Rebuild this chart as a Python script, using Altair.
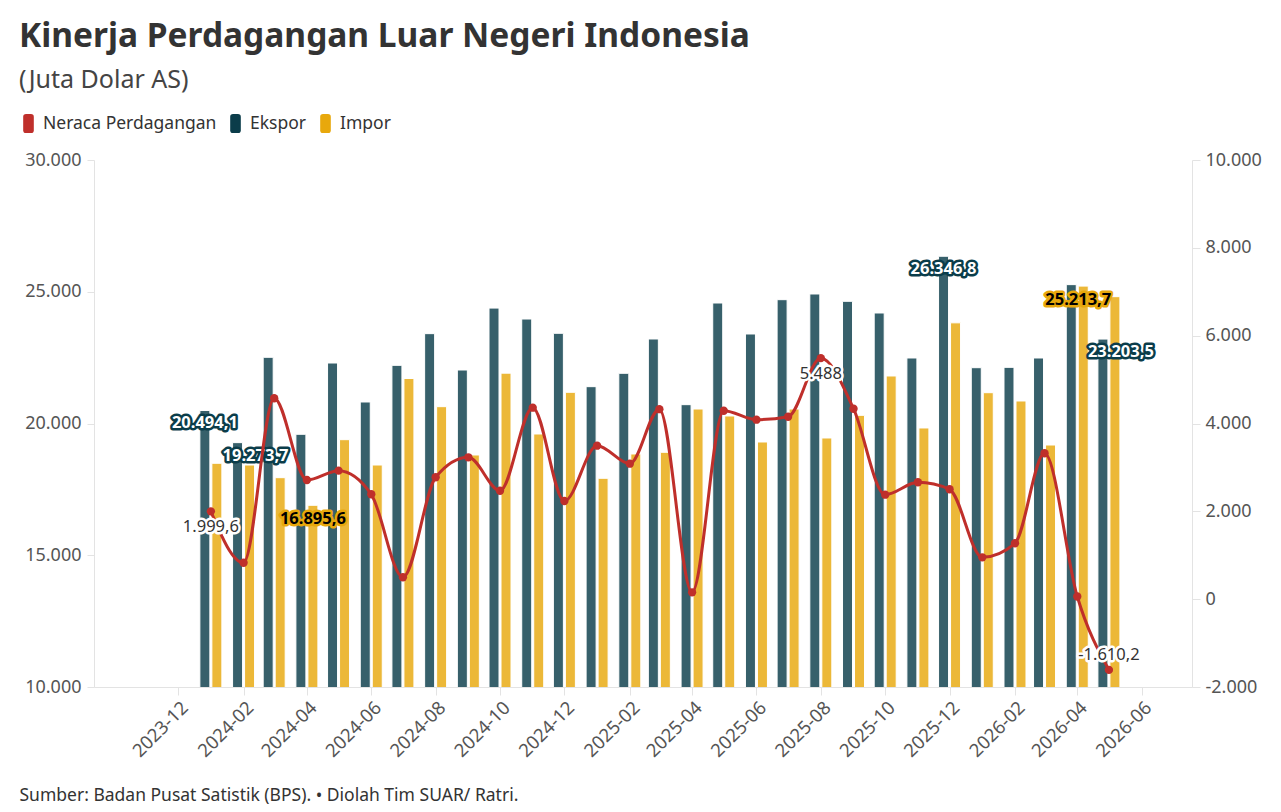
import altair as alt
import pandas as pd

bulan = ["2024-01", "2024-02", "2024-03", "2024-04", "2024-05", "2024-06", "2024-07", "2024-08",
         "2024-09", "2024-10", "2024-11", "2024-12", "2025-01", "2025-02", "2025-03", "2025-04",
         "2025-05", "2025-06", "2025-07", "2025-08", "2025-09", "2025-10", "2025-11", "2025-12",
         "2026-01", "2026-02", "2026-03", "2026-04", "2026-05"]
ekspor = [20494.1, 19273.7, 22512, 19590, 22296, 20816, 22207, 23410, 22030, 24380, 23965, 23423,
          21398, 21905, 23207, 20715, 24573, 23397, 24699, 24915, 24637, 24194, 22486, 26346.8,
          22118, 22131, 22486, 25270, 23203.5]
impor = [18490, 18425, 17944, 16895.6, 19386, 18425, 21708, 20639, 18805, 21910, 19602, 21184,
         17920, 18843, 18907, 20550, 20285, 19298, 20550, 19450, 20310, 21803, 19830, 23820,
         21169, 20854, 19184, 25213.7, 24813.7]
neraca = [1999.6, 830, 4574, 2714, 2926, 2388, 498, 2775, 3230, 2470, 4360, 2235, 3495, 3085,
          4326, 156, 4291, 4087, 4155, 5488, 4337, 2379, 2661, 2502, 953, 1272, 3322, 60, -1610.2]

# x-axis tick months (labels shown every second month)
tick_bulan = ["2023-12", "2024-01", "2024-02", "2024-03", "2024-04", "2024-05", "2024-06",
              "2024-07", "2024-08", "2024-09", "2024-10", "2024-11", "2024-12", "2025-01",
              "2025-02", "2025-03", "2025-04", "2025-05", "2025-06", "2025-07", "2025-08",
              "2025-09", "2025-10", "2025-11", "2025-12", "2026-01", "2026-02", "2026-03",
              "2026-04", "2026-05", "2026-06"]
left_ticks = [10000, 15000, 20000, 25000, 30000]
right_ticks = [-2000, 0, 2000, 4000, 6000, 8000, 10000]

seri = ["Neraca Perdagangan", "Ekspor", "Impor"]
warna = ["#bf2f2b", "#0b3d4a", "#e8a80c"]

judul = "Kinerja Perdagangan Luar Negeri Indonesia"
subjudul = "(Juta Dolar AS)"
sumber = "Sumber: Badan Pusat Satistik (BPS). • Diolah Tim SUAR/ Ratri."

df = pd.DataFrame({
    "bulan": bulan,
    "tanggal": [b + "-01" for b in bulan],
    "Ekspor": ekspor,
    "Impor": impor,
    "Neraca": neraca,
})

FONT = "Noto Sans"
AX = "#555555"
LINE = "#e3e3e3"

color_scale = alt.Scale(domain=seri, range=warna)
pill = ("M-0.26,-1 L0.26,-1 Q0.56,-1 0.56,-0.7 L0.56,0.7 Q0.56,1 0.26,1 "
        "L-0.26,1 Q-0.56,1 -0.56,0.7 L-0.56,-0.7 Q-0.56,-1 -0.26,-1 Z")
legend = alt.Legend(
    title=None, orient="none", direction="horizontal", legendX=-75, legendY=-46,
    symbolType=pill, symbolSize=360, symbolOpacity=1, symbolStrokeWidth=0,
    labelFontSize=17.5, labelColor="#333", labelFont=FONT, columnPadding=9, labelOffset=5,
    labelLimit=400,
)

tick_vals = [alt.DateTime(year=int(t[:4]), month=int(t[5:]), date=1, utc=True) for t in tick_bulan]

x_enc = alt.X(
    "tanggal:T",
    scale=alt.Scale(type="utc",
                    domain=[alt.DateTime(year=2023, month=9, date=17, utc=True),
                            alt.DateTime(year=2026, month=7, date=14, utc=True)]),
    axis=alt.Axis(
        values=tick_vals,
        labelExpr="utcmonth(datum.value) % 2 == 1 ? utcFormat(datum.value, '%Y-%m') : ''",
        labelAngle=-45, labelAlign="right", labelBaseline="top", labelOverlap=False,
        labelFontSize=18.5, labelColor=AX, labelFont=FONT, labelPadding=3,
        domainColor=LINE, tickColor=LINE, tickSize=8, grid=False,
        title=sumber, titleAnchor="start", titleAlign="left", titleX=-75, titleY=99,
        titleFontSize=17.5, titleFontWeight="normal", titleColor="#333", titleFont=FONT,
    ),
)

left_scale = alt.Scale(domain=[10000, 30000], nice=False, zero=False)
right_scale = alt.Scale(domain=[-2000, 10000], nice=False, zero=False)

left_axis = alt.Axis(
    orient="left", values=left_ticks, format=",.0f",
    labelFontSize=18, labelColor=AX, labelFont=FONT, domainColor=LINE,
    tickColor=LINE, tickSize=7, labelPadding=6, grid=False, title=None,
)
right_axis = alt.Axis(
    orient="right", values=right_ticks, format=",.0f",
    labelFontSize=18, labelColor=AX, labelFont=FONT, domainColor=LINE,
    tickColor=LINE, tickSize=8, labelPadding=5, grid=False, title=None,
)

base = alt.Chart(df)

bar_e = base.mark_bar(width=10, xOffset=-6, fillOpacity=0.82, stroke="white", strokeWidth=1, clip=True).encode(
    x=x_enc,
    y=alt.Y("Ekspor:Q", scale=left_scale, axis=left_axis),
    color=alt.Color("s:N", scale=color_scale, legend=legend),
).transform_calculate(s="'Ekspor'")
bar_i = base.mark_bar(width=10, xOffset=6, fillOpacity=0.82, stroke="white", strokeWidth=1, clip=True).encode(
    x="tanggal:T",
    y=alt.Y("Impor:Q"),
    color=alt.Color("s:N", scale=color_scale, legend=legend),
).transform_calculate(s="'Impor'")


def label(field, months, dx, dy, halo, ink, weight, size):
    src = base.transform_filter(alt.FieldOneOfPredicate(field="bulan", oneOf=months))
    enc = dict(
        x="tanggal:T",
        y=alt.Y(f"{field}:Q"),
        text=alt.Text(f"{field}:Q", format=",.1~f"),
    )
    back = src.mark_text(dx=dx, dy=dy, fontSize=size, fontWeight=weight, font=FONT,
                         stroke=halo, strokeWidth=5, strokeJoin="round", fill=halo).encode(**enc)
    front = src.mark_text(dx=dx, dy=dy, fontSize=size, fontWeight=weight, font=FONT,
                          fill=ink).encode(**enc)
    return [back, front]


left_labels = (
    label("Ekspor", ["2024-01", "2025-12"], -6, 13, "#0b3d4a", "white", "bold", 16.5)
    + label("Ekspor", ["2024-02", "2026-05"], 12, 13, "#0b3d4a", "white", "bold", 16.5)
    + label("Impor", ["2024-04"], 6, 14, "#e8a80c", "black", "bold", 16.5)
    + label("Impor", ["2026-04"], 1, 14, "#e8a80c", "black", "bold", 16.5)
)

left = alt.layer(bar_e, bar_i, *left_labels)

line = base.mark_line(interpolate="monotone", strokeWidth=3, color="#bf2f2b").encode(
    x="tanggal:T",
    y=alt.Y("Neraca:Q", scale=right_scale, axis=right_axis),
)
pts = base.mark_circle(size=70, opacity=1, color="#bf2f2b").encode(
    x="tanggal:T",
    y=alt.Y("Neraca:Q"),
)
right_labels = (
    label("Neraca", ["2024-01", "2025-08"], 0, 16, "white", "#333", "normal", 16.5)
    + label("Neraca", ["2026-05"], 0, -15, "white", "#333", "normal", 16.5)
)
right = alt.layer(line, pts, *right_labels)

chart = alt.layer(left, right).resolve_scale(y="independent").properties(
    width=1098, height=527,
    title=alt.TitleParams(
        text=judul, subtitle=subjudul, anchor="start", frame="bounds",
        fontSize=33.5, fontWeight="bold", color="#333", font=FONT,
        subtitleFontSize=25, subtitleColor="#444", subtitleFont=FONT, subtitlePadding=14,
        offset=20,
    ),
    padding={"left": 11, "top": 11, "right": 5, "bottom": 5},
).configure_view(stroke=None)

chart.save("out.html", embed_options={
    "renderer": "svg", "actions": False,
    "formatLocale": {"decimal": ",", "thousands": ".", "grouping": [3],
                     "currency": ["Rp", ""], "minus": "-"},
})
